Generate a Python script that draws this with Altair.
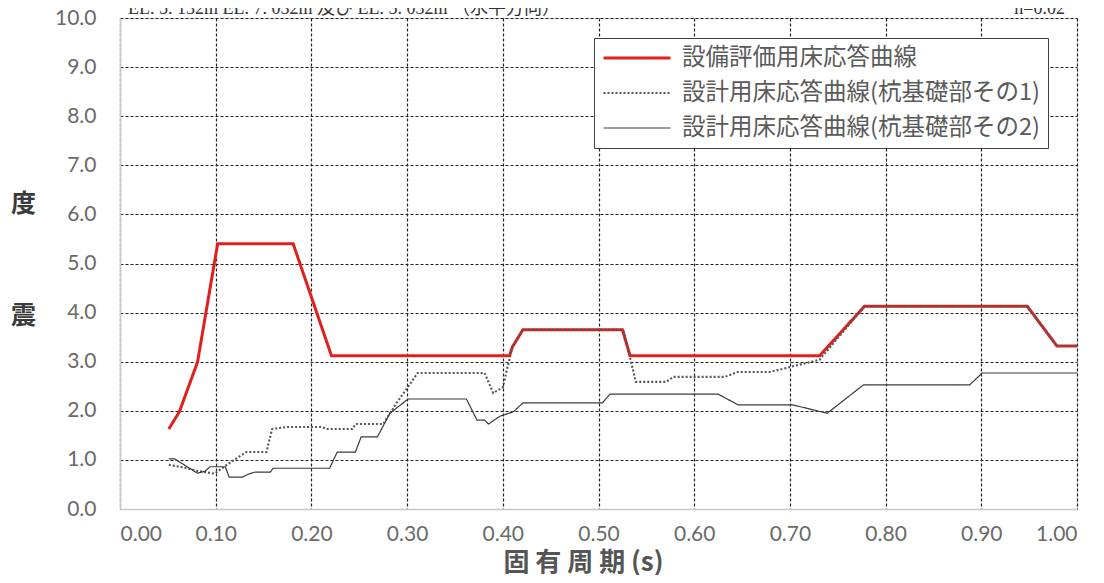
import altair as alt
import pandas as pd

# series names
names = [
    "設備評価用床応答曲線",
    "設計用床応答曲線(杭基礎部その1)",
    "設計用床応答曲線(杭基礎部その2)",
]

# 設備評価用床応答曲線
red_t = [0.051, 0.062, 0.081, 0.102, 0.181, 0.221, 0.407, 0.410, 0.421, 0.525, 0.533, 0.731, 0.778, 0.948, 0.979, 1.000]
red_v = [1.63, 1.98, 2.99, 5.40, 5.40, 3.12, 3.12, 3.30, 3.65, 3.65, 3.12, 3.12, 4.13, 4.13, 3.32, 3.32]

# 設計用床応答曲線（杭基礎部その1）
s1_t = [0.051, 0.065, 0.080, 0.099, 0.113, 0.132, 0.153, 0.159, 0.174, 0.211, 0.216, 0.243, 0.246, 0.275,
        0.289, 0.300, 0.311, 0.381, 0.390, 0.400, 0.410, 0.421, 0.526, 0.539, 0.571, 0.578, 0.632, 0.645,
        0.679, 0.731, 0.778, 0.948, 0.979, 1.000]
s1_v = [0.90, 0.85, 0.78, 0.72, 0.92, 1.16, 1.16, 1.63, 1.67, 1.67, 1.63, 1.63, 1.73, 1.73,
        2.16, 2.46, 2.77, 2.77, 2.36, 2.48, 3.30, 3.65, 3.65, 2.59, 2.59, 2.69, 2.69, 2.79,
        2.79, 3.04, 4.13, 4.13, 3.32, 3.32]

# 設計用床応答曲線（杭基礎部その2）
s2_t = [0.051, 0.057, 0.081, 0.089, 0.094, 0.110, 0.114, 0.128, 0.134, 0.141, 0.157, 0.160, 0.219, 0.227,
        0.246, 0.252, 0.269, 0.282, 0.301, 0.362, 0.373, 0.381, 0.385, 0.397, 0.411, 0.421, 0.504, 0.512,
        0.625, 0.646, 0.703, 0.739, 0.777, 0.888, 0.901, 1.000]
s2_v = [1.02, 1.02, 0.73, 0.77, 0.86, 0.86, 0.65, 0.65, 0.71, 0.75, 0.75, 0.83, 0.83, 1.16,
        1.16, 1.47, 1.47, 1.95, 2.24, 2.24, 1.81, 1.81, 1.73, 1.89, 1.98, 2.16, 2.16, 2.34,
        2.34, 2.12, 2.12, 1.95, 2.53, 2.53, 2.77, 2.77]

x_ticks = [0.0, 0.1, 0.2, 0.3, 0.4, 0.5, 0.6, 0.7, 0.8, 0.9, 1.0]
y_ticks = [0, 1, 2, 3, 4, 5, 6, 7, 8, 9, 10]

title_left = "EL. 5. 132m  EL. 7. 032m 及び EL. 5. 032m （水平方向）"
title_right = "h=0.02"

rows = []
for i, (ts, vs) in enumerate([(red_t, red_v), (s1_t, s1_v), (s2_t, s2_v)]):
    for t, v in zip(ts, vs):
        rows.append({"series": names[i], "T": t, "v": v, "k": i})
df = pd.DataFrame(rows)

legend = alt.Legend(
    orient="none", legendX=474, legendY=20, title=None,
    symbolType="stroke", symbolSize=4489, clipHeight=24,
    labelFont="Noto Sans CJK JP", labelFontSize=23.5, labelColor="#5a5a5a",
    labelLimit=0, labelOffset=10, fillColor="white", strokeColor="#404040",
    padding=8, rowPadding=11,
)

lines = alt.Chart(df).mark_line(interpolate="linear").encode(
    x=alt.X("T:Q", scale=alt.Scale(domain=[0, 1], nice=False, zero=False),
            axis=alt.Axis(values=x_ticks, format=".2f", grid=True, ticks=False,
                          gridDash=[3, 2], gridColor="#222", gridWidth=1.2,
                          domainColor="#c8c8c8", domainWidth=1.5,
                          labelFont="Lato", labelFontSize=21, labelColor="#6a6a6a",
                          labelPadding=14,
                          title="固 有 周 期 (s)", titleFont="Noto Sans CJK JP",
                          titleFontSize=26, titleFontWeight="bold", titleColor="#555",
                          titleX=463, titleY=61, titleBaseline="alphabetic")),
    y=alt.Y("v:Q", scale=alt.Scale(domain=[0, 10], nice=False),
            axis=alt.Axis(values=y_ticks, format=".1f", grid=True, ticks=False,
                          gridDash=[3, 2], gridColor="#222", gridWidth=1.2,
                          domainColor="#c8c8c8", domainWidth=1.5,
                          labelFont="Lato", labelFontSize=21, labelColor="#6a6a6a",
                          labelPadding=24,
                          title=["度", "震"], titleAngle=0, titleLineHeight=112,
                          titleFont="Noto Sans CJK JP", titleFontSize=25,
                          titleFontWeight="bold", titleColor="#3a3a3a",
                          titleX=-97, titleY=185, titleBaseline="middle",
                          titleAlign="center")),
    color=alt.Color("series:N", scale=alt.Scale(domain=names, range=["#e0201b", "#555555", "#3a3a3a"]),
                    legend=legend),
    strokeDash=alt.StrokeDash("series:N", scale=alt.Scale(domain=names, range=[[1, 0], [2, 2], [1, 0]]),
                              legend=legend),
    strokeWidth=alt.StrokeWidth("series:N", scale=alt.Scale(domain=names, range=[3, 1.2, 1.7]),
                                legend=legend),
    order=alt.Order("k:Q"),
)

ann = pd.DataFrame({"label": [title_left, title_right]})

t_left = alt.Chart(ann.iloc[[0]]).mark_text(
    align="left", baseline="alphabetic", font="Liberation Serif, Noto Sans CJK JP",
    fontSize=18, color="#333",
).encode(text="label:N", x=alt.value(8), y=alt.value(-4))

t_right = alt.Chart(ann.iloc[[1]]).mark_text(
    align="right", baseline="alphabetic", font="Liberation Serif, Noto Sans CJK JP",
    fontSize=18, color="#333",
).encode(text="label:N", x=alt.value(945), y=alt.value(-4))

chart = alt.layer(lines, t_left, t_right).properties(
    width=957, height=491,
    autosize=alt.AutoSizeParams(type="none"),
    padding={"left": 112, "top": 10, "right": 15, "bottom": 66},
).configure_view(stroke=None).configure(background="white")

chart.save("out.html", embed_options={"renderer": "svg", "actions": False})
